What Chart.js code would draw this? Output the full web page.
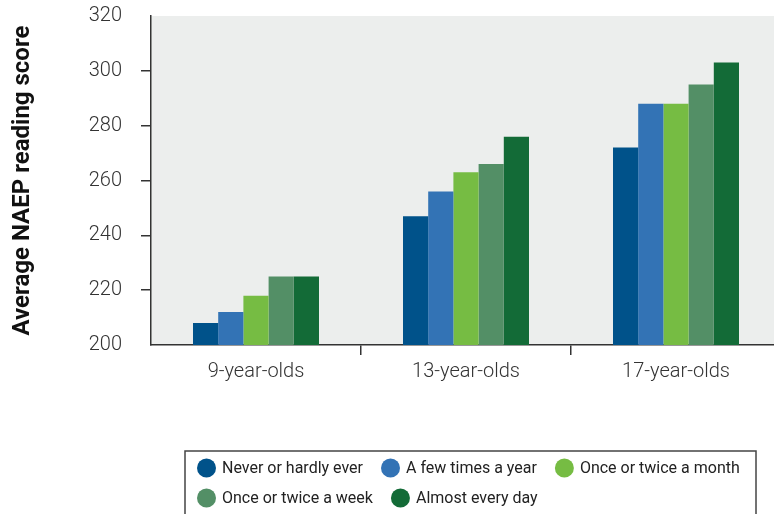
<!DOCTYPE html>
<html>
<head>
<meta charset="utf-8">
<script src="https://cdn.jsdelivr.net/npm/chart.js@4.4.1/dist/chart.umd.min.js"></script>
<style>
  html, body { margin: 0; padding: 0; background: #fff; overflow: hidden; }
</style>
</head>
<body>
<canvas id="myChart" width="781" height="514"></canvas>
<script>
// data
const ageGroups = ['9-year-olds', '13-year-olds', '17-year-olds'];
const seriesNames = ['Never or hardly ever', 'A few times a year', 'Once or twice a month', 'Once or twice a week', 'Almost every day'];
const neverOrHardly = [208, 247, 272];
const fewTimesYear = [212, 256, 288];
const onceTwiceMonth = [218, 263, 288];
const onceTwiceWeek = [225, 266, 295];
const almostEveryDay = [225, 276, 303];
const yTicks = [200, 220, 240, 260, 280, 300, 320];

const seriesValues = [neverOrHardly, fewTimesYear, onceTwiceMonth, onceTwiceWeek, almostEveryDay];
const seriesColors = ['#00528a', '#3373b5', '#76bc43', '#538f66', '#136b37'];
const axisColor = '#333';

const plotBackground = {
    id: 'plotBackground',
    beforeDraw(chart) {
        const { ctx, chartArea } = chart;
        ctx.save();
        ctx.fillStyle = '#eceeed';
        ctx.fillRect(chartArea.left, chartArea.top, chartArea.right - chartArea.left, chartArea.bottom - chartArea.top);
        ctx.restore();
    }
};

// boxed legend under the chart, items taken from the datasets
const boxedLegend = {
    id: 'boxedLegend',
    afterDraw(chart) {
        const ctx = chart.ctx;
        const box = { left: 185, top: 451, right: 756, bottom: 540 };
        ctx.save();
        ctx.strokeStyle = '#444';
        ctx.lineWidth = 1.5;
        ctx.strokeRect(box.left, box.top, box.right - box.left, box.bottom - box.top);
        ctx.font = '16px Roboto';
        ctx.textBaseline = 'middle';
        let x = box.left + 12;
        let y = 468;
        chart.data.datasets.forEach((ds) => {
            const w = ctx.measureText(ds.label).width;
            if (x + 25 + w > box.right - 4) {
                x = box.left + 12;
                y += 30;
            }
            ctx.beginPath();
            ctx.arc(x + 9.5, y, 9.5, 0, Math.PI * 2);
            ctx.fillStyle = ds.backgroundColor;
            ctx.fill();
            ctx.fillStyle = '#222';
            ctx.fillText(ds.label, x + 25, y + 1);
            x += 25 + w + 18;
        });
        ctx.restore();
    }
};

const ctx = document.getElementById('myChart').getContext('2d');
const myChart = new Chart(ctx, {
    type: 'bar',
    data: {
        labels: ageGroups,
        datasets: seriesNames.map((name, i) => ({
            label: name,
            data: seriesValues[i],
            backgroundColor: seriesColors[i],
            borderWidth: 0,
            categoryPercentage: 0.6,
            barPercentage: 1.0
        }))
    },
    options: {
        responsive: false,
        animation: false,
        layout: { padding: { top: 16, right: 0, bottom: 0, left: 0 } },
        plugins: {
            legend: { display: false },
            tooltip: { enabled: false }
        },
        scales: {
            x: {
                offset: true,
                border: { display: true, color: axisColor, width: 1.5 },
                grid: {
                    offset: true,
                    drawOnChartArea: false,
                    tickLength: 10,
                    lineWidth: 1.5,
                    color: c => c.index === 0 ? 'rgba(0,0,0,0)' : axisColor
                },
                ticks: {
                    padding: 5,
                    color: '#333',
                    font: { family: 'Roboto', size: 20, weight: '300' }
                },
                afterFit(scale) { scale.height = 169; }
            },
            y: {
                min: 200,
                max: 320,
                afterBuildTicks(scale) { scale.ticks = yTicks.map(v => ({ value: v })); },
                border: { display: true, color: axisColor, width: 1.5 },
                grid: {
                    drawOnChartArea: false,
                    tickLength: 10,
                    lineWidth: 1.5,
                    color: c => (c.tick && (c.tick.value === 200 || c.tick.value === 320)) ? 'rgba(0,0,0,0)' : axisColor
                },
                ticks: {
                    padding: 19,
                    color: '#333',
                    font: { family: 'Roboto', size: 20, weight: '300' }
                },
                title: {
                    display: true,
                    text: 'Average NAEP reading score',
                    color: '#111',
                    padding: { top: 9, bottom: 0 },
                    font: { family: 'Roboto', size: 24, weight: 'bold' }
                },
                afterFit(scale) {
                    scale.width = 151;
                    scale.paddingTop = 0;
                    scale.paddingBottom = 0;
                }
            }
        }
    },
    plugins: [plotBackground, boxedLegend]
});
</script>
</body>
</html>
